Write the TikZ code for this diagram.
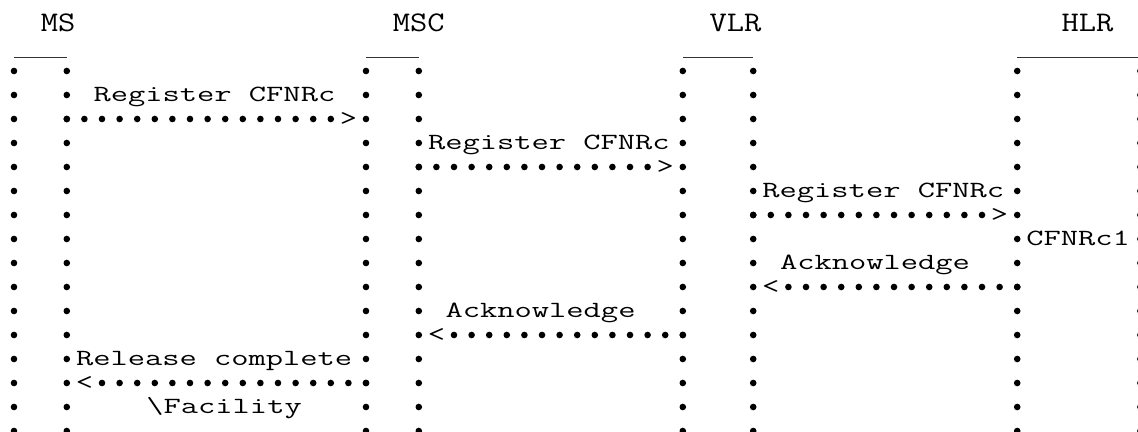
\documentclass[tikz,border=0pt]{standalone}
\usepackage{fontspec}
\usepackage{tikz}
\newfontfamily\headtt[FakeStretch=1.18]{Latin Modern Mono}
\newfontfamily\bodytt[FakeStretch=1.445]{Latin Modern Mono}

\begin{document}
\begin{tikzpicture}[
  x=8.8pt, y=-12pt,
  hdr/.style={font={\headtt\fontsize{14.2pt}{16pt}\selectfont}, inner sep=0pt, anchor=base west},
  lbl/.style={font={\bodytt\fontsize{11.6pt}{12pt}\selectfont}, inner sep=0pt, anchor=west, text height=6.7pt, text depth=0pt},
  tip/.style={lbl, anchor=center},
  lifeline/.style={line width=3.3pt, line cap=round, dash pattern=on 0pt off 12pt},
  msg/.style={line width=3.3pt, line cap=round, dash pattern=on 0pt off 8.8pt},
  bar/.style={line width=0.7pt, black!80}
]
\useasboundingbox (-7pt,35.5pt) rectangle (562pt,-180.5pt);

% lifelines, two dotted columns per entity
\foreach \n/\c in {msa/0, msb/3, msca/20, mscb/23, vlra/38, vlrb/42, hlra/57, hlrb/64} {
  \coordinate (\n-top) at (\c,0);
  \coordinate (\n-bot) at (\c,15.3);
  \draw[lifeline] (\n-top) -- (\n-bot);
}
\foreach \a/\b in {msa/msb, msca/mscb, vlra/vlrb, hlra/hlrb}
  \draw[bar] ([yshift=6.85pt]\a-top) -- ([yshift=6.85pt]\b-top);

\node[hdr] (ms)  at (1.5,-1.625)  {MS};
\node[hdr] (msc) at (21.5,-1.625) {MSC};
\node[hdr] (vlr) at (39.5,-1.625) {VLR};
\node[hdr] (hlr) at (59.5,-1.625) {HLR};

% messages
\node[lbl] (reg1) at (4.5,1)  {Register CFNRc};
\node[tip] (t1)   at (19,2)   {>};
\node[lbl] (reg2) at (23.5,3) {Register CFNRc};
\node[tip] (t2)   at (37,4)   {>};
\node[lbl] (reg3) at (42.5,5) {Register CFNRc};
\node[tip] (t3)   at (56,6)   {>};
\node[lbl] (cfn)  at (57.5,7) {CFNRc1};
\node[lbl] (ack1) at (43.5,8) {Acknowledge};
\node[tip] (t4)   at (43,9)   {<};
\node[lbl] (ack2) at (24.5,10) {Acknowledge};
\node[tip] (t5)   at (24,11)  {<};
\node[lbl] (rel)  at (3.5,12) {Release complete};
\node[tip] (t6)   at (4,13)   {<};
\node[lbl] (fac)  at (7.5,14) {\textbackslash Facility};

\draw[msg] (msb-top |- t1) -- (t1.west);
\draw[msg] (mscb-top |- t2) -- (t2.west);
\draw[msg] (vlrb-top |- t3) -- (t3.west);
\draw[msg] (hlra-top |- t4) -- (t4.east);
\draw[msg] (vlra-top |- t5) -- (t5.east);
\draw[msg] (msca-top |- t6) -- (t6.east);
\end{tikzpicture}
\end{document}
